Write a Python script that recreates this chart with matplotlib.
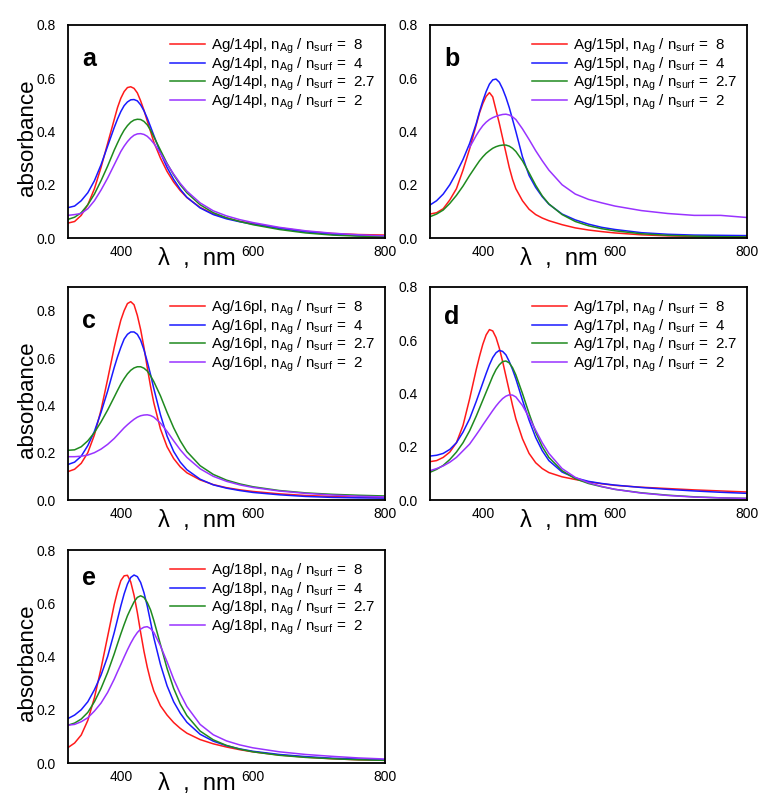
import numpy as np
import matplotlib
matplotlib.use("Agg")
import matplotlib.pyplot as plt

plt.rcParams['font.family'] = ['Liberation Sans', 'DejaVu Sans']
plt.rcParams['mathtext.default'] = 'regular'

nan = np.nan
wl = [320, 330, 340, 350, 360, 370, 380, 390, 395, 400, 405, 410, 415, 420, 425, 430, 435, 440, 445,
      450, 460, 470, 480, 490, 500, 520, 540, 560, 580, 600, 640, 680, 720, 760, 800]

ratios = ["8", "4", "2.7", "2"]
samples = ["14pl", "15pl", "16pl", "17pl", "18pl"]
panel_letters = ["a", "b", "c", "d", "e"]

# panel a : Ag/14pl
a_8 = [.056, .062, .085, .125, .185, .265, .355, .445, .49, .525, .55, .565, .568, .562, .545, .515, .48, .44, .40,
       .36, .30, .25, .21, .178, .152, .115, .09, .075, .063, .054, .038, .025, .017, .013, .011]
a_4 = [.114, .12, .14, .17, .215, .275, .345, .415, .447, .475, .497, .511, .519, .52, .515, .5, .478, .45, .418,
       .385, .32, .265, .22, .183, .153, .113, .088, .072, .061, .052, .036, .023, .014, .009, .007]
a_27 = [.07, .078, .095, .125, .165, .215, .27, .33, .357, .383, .405, .422, .435, .443, .446, .445, .438, .425, .405,
        .38, .33, .28, .237, .2, .17, .125, .095, .076, .062, .05, .032, .019, .011, .007, .005]
a_2 = [.085, .088, .092, .11, .14, .18, .225, .275, .3, .325, .345, .362, .376, .386, .391, .392, .389, .382, .37,
       .355, .318, .278, .24, .205, .176, .132, .102, .083, .069, .058, .04, .027, .018, .012, .008]

# panel b : Ag/15pl
b_8 = [.09, .095, .11, .143, .185, .255, .335, .425, .47, .505, .532, .546, .53, .48, .43, .375, .32, .265, .22,
       .185, .14, .108, .088, .075, .065, .05, .038, .03, .024, .019, .012, .008, .006, .005, .004]
b_4 = [.124, .14, .165, .2, .245, .295, .355, .43, .475, .515, .55, .578, .594, .597, .585, .56, .528, .49, .445,
       .4, .305, .235, .19, .155, .127, .09, .068, .052, .04, .032, .02, .014, .011, .01, .009]
b_27 = [.08, .09, .105, .13, .16, .195, .235, .272, .29, .305, .318, .328, .337, .343, .347, .349, .349, .345, .337,
        .325, .29, .245, .198, .158, .128, .088, .062, .046, .035, .027, .016, .01, .007, .005, .004]
b_2 = [nan, nan, nan, nan, nan, nan, .34, .385, .405, .422, .435, .445, .452, .457, .461, .464, .465, .462, .455,
       .445, .41, .37, .328, .29, .255, .2, .165, .145, .132, .12, .103, .092, .085, .085, .077]

# panel c : Ag/16pl
c_8 = [.12, .13, .155, .2, .275, .38, .51, .645, .705, .76, .8, .83, .838, .825, .78, .72, .645, .56, .48,
       .41, .30, .225, .175, .14, .115, .085, .065, .052, .043, .036, .026, .019, .015, .012, .01]
c_4 = [.15, .16, .185, .23, .29, .37, .46, .56, .605, .645, .68, .7, .71, .71, .7, .675, .635, .585, .53,
       .47, .36, .27, .205, .16, .128, .088, .064, .05, .04, .032, .022, .015, .011, .009, .008]
c_27 = [.21, .212, .225, .25, .285, .33, .38, .435, .463, .49, .513, .533, .548, .558, .563, .563, .557, .545, .525,
        .5, .44, .37, .305, .25, .205, .145, .108, .084, .068, .056, .04, .03, .024, .02, .017]
c_2 = [.183, .183, .185, .19, .2, .215, .235, .26, .275, .29, .305, .318, .33, .341, .35, .356, .359, .36, .357,
       .35, .325, .29, .25, .212, .18, .132, .1, .079, .064, .053, .038, .028, .021, .016, .013]

# panel d : Ag/17pl
d_8 = [.144, .148, .16, .18, .215, .28, .38, .49, .54, .585, .62, .64, .635, .61, .57, .52, .465, .41, .355,
       .305, .23, .175, .14, .118, .103, .087, .077, .068, .061, .055, .048, .043, .038, .034, .03]
d_4 = [.165, .168, .175, .19, .215, .255, .305, .37, .405, .44, .475, .508, .535, .553, .562, .558, .545, .52, .49,
       .455, .375, .3, .235, .185, .148, .105, .083, .07, .062, .056, .047, .04, .034, .029, .025]
d_27 = [.104, .115, .13, .152, .18, .215, .26, .315, .345, .375, .405, .435, .465, .49, .508, .52, .522, .515, .497,
        .47, .4, .325, .255, .2, .16, .11, .08, .062, .05, .04, .027, .018, .012, .008, .006]
d_2 = [.11, .118, .128, .142, .16, .185, .21, .245, .263, .282, .3, .318, .336, .353, .368, .381, .39, .395, .394,
       .387, .355, .31, .262, .215, .175, .118, .085, .065, .051, .04, .026, .017, .011, .008, .006]

# panel e : Ag/18pl
e_8 = [.058, .075, .105, .16, .245, .355, .475, .595, .645, .685, .703, .705, .68, .63, .565, .49, .42, .36, .31,
       .27, .215, .18, .152, .13, .112, .088, .072, .06, .05, .042, .03, .022, .016, .012, .01]
e_4 = [.167, .18, .2, .23, .275, .33, .4, .49, .54, .59, .635, .672, .697, .706, .7, .678, .64, .59, .53,
       .47, .37, .29, .23, .187, .153, .108, .082, .065, .053, .044, .032, .024, .018, .015, .012]
e_27 = [.142, .15, .165, .19, .23, .28, .34, .41, .448, .485, .52, .553, .58, .605, .622, .628, .622, .603, .575,
        .535, .445, .355, .28, .222, .178, .12, .087, .066, .052, .042, .029, .021, .016, .012, .01]
e_2 = [.142, .145, .155, .17, .195, .225, .265, .315, .343, .37, .398, .425, .45, .472, .49, .503, .51, .512, .505,
       .49, .44, .38, .315, .26, .212, .145, .106, .083, .068, .057, .042, .032, .025, .019, .015]

panels = [[a_8, a_4, a_27, a_2], [b_8, b_4, b_27, b_2], [c_8, c_4, c_27, c_2],
          [d_8, d_4, d_27, d_2], [e_8, e_4, e_27, e_2]]
ymaxes = [0.8, 0.8, 0.9, 0.8, 0.8]
colors = ['#ff1a1a', '#1a1aff', '#1f8a1f', '#9933ff']

W, H = 768, 805
fig = plt.figure(figsize=(W / 100, H / 100), dpi=100)
lefts = [68, 430]
tops = [25, 287, 550]
aw, ah = 317, 213
letter_y = [0.84, 0.84, 0.84, 0.86, 0.87]

for i in range(5):
    r, c = divmod(i, 2)
    ax = fig.add_axes([lefts[c] / W, 1 - (tops[r] + ah) / H, aw / W, ah / H])
    for vals, col, rt in zip(panels[i], colors, ratios):
        lab = "Ag/%s, n$_{Ag}$ / n$_{surf}$ =  %s" % (samples[i], rt)
        ax.plot(wl, vals, color=col, lw=1.1, label=lab)
    ax.set_xlim(320, 800)
    ax.set_ylim(0, ymaxes[i])
    ax.set_xticks([400, 600, 800])
    ax.set_yticks([0.0, 0.2, 0.4, 0.6, 0.8])
    ax.set_yticklabels(["0.0", "0.2", "0.4", "0.6", "0.8"])
    ax.tick_params(length=0, labelsize=10)
    ax.tick_params(axis='y', pad=9)
    ax.tick_params(axis='x', pad=5)
    for s in ax.spines.values():
        s.set_linewidth(1.3)
    ax.set_xlabel("λ  ,  nm", fontsize=17)
    ax.xaxis.set_label_coords(0.405, -0.045)
    if c == 0:
        ax.set_ylabel("absorbance", fontsize=16)
        ax.yaxis.set_label_coords(-0.095, 0.47)
    ax.text(0.045, letter_y[i], panel_letters[i], transform=ax.transAxes, fontsize=18,
            fontweight='bold', va='center', ha='left')
    ax.legend(loc='upper left', bbox_to_anchor=(0.322, 0.945), frameon=False, fontsize=10.9,
              handlelength=2.3, handletextpad=0.4, labelspacing=-0.05, borderaxespad=0, borderpad=0)

fig.savefig("out.png", dpi=100)
